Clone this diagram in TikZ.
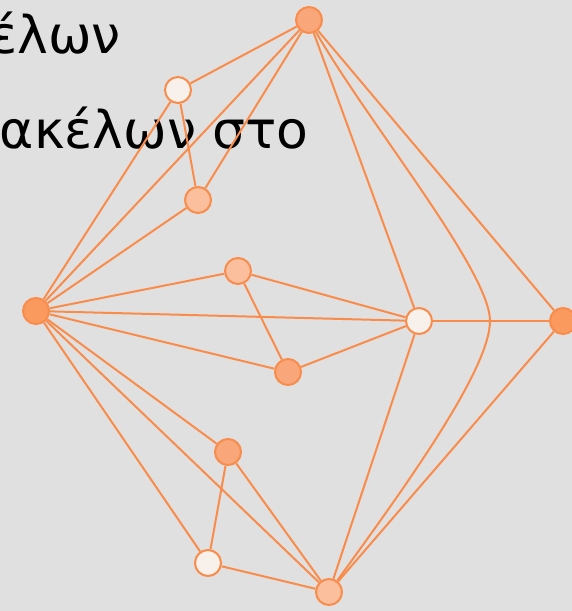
\documentclass[tikz,border=0pt]{standalone}
\usepackage{fontspec}
\newfontfamily\greekfont{DejaVu Sans}
\definecolor{bgc}{HTML}{E0E0E0}
\definecolor{edgec}{HTML}{FA8C4B}
\definecolor{fstrong}{HTML}{FB9A5E}
\definecolor{fmed}{HTML}{F9A77A}
\definecolor{flight}{HTML}{FBBF9D}
\definecolor{fpale}{HTML}{F8F0EA}
\tikzset{
  vert/.style={circle, draw=edgec, line width=2pt, minimum size=26pt, inner sep=0pt},
  link/.style={draw=edgec, line width=2pt},
  title/.style={anchor=base east, inner sep=0pt, font=\greekfont\fontsize{52}{60}\selectfont}
}
\begin{document}
\begin{tikzpicture}[x=1pt,y=-1pt]
\fill[bgc] (0,0) rectangle (572,611);
\useasboundingbox (0,0) rectangle (572,611);
\node[title] (l1) at (121,53) {έλων};
\node[title] (l2) at (309,148) {ακέλων στο};
\node[vert, fill=fmed] (T) at (309,20) {};
\node[vert, fill=fpale] (A) at (178,90) {};
\node[vert, fill=flight] (B) at (198,200) {};
\node[vert, fill=fstrong] (L) at (36,311) {};
\node[vert, fill=flight] (C) at (238,271) {};
\node[vert, fill=fmed] (D) at (288,372) {};
\node[vert, fill=fpale] (W) at (419,321) {};
\node[vert, fill=fstrong] (R) at (563,321) {};
\node[vert, fill=fmed] (E) at (228,452) {};
\node[vert, fill=fpale] (F) at (208,563) {};
\node[vert, fill=flight] (Bo) at (329,592) {};
\coordinate (K) at (490,321);
\coordinate (c1) at (369,124);
\coordinate (c2) at (490,271);
\coordinate (c3) at (490,371);
\coordinate (c4) at (399,495);
\draw[link] (T) -- (A);
\draw[link] (T) -- (L);
\draw[link] (T) -- (B);
\draw[link] (A) -- (L);
\draw[link] (A) -- (B);
\draw[link] (B) -- (L);
\draw[link] (T) -- (W);
\draw[link] (T) -- (R);
\draw[link] (T) .. controls (c1) and (c2) .. (K) .. controls (c3) and (c4) .. (Bo);
\draw[link] (L) -- (C);
\draw[link] (L) -- (W);
\draw[link] (L) -- (D);
\draw[link] (C) -- (W);
\draw[link] (C) -- (D);
\draw[link] (D) -- (W);
\draw[link] (W) -- (R);
\draw[link] (W) -- (Bo);
\draw[link] (R) -- (Bo);
\draw[link] (L) -- (E);
\draw[link] (L) -- (F);
\draw[link] (L) -- (Bo);
\draw[link] (E) -- (F);
\draw[link] (E) -- (Bo);
\draw[link] (F) -- (Bo);
\end{tikzpicture}
\end{document}
